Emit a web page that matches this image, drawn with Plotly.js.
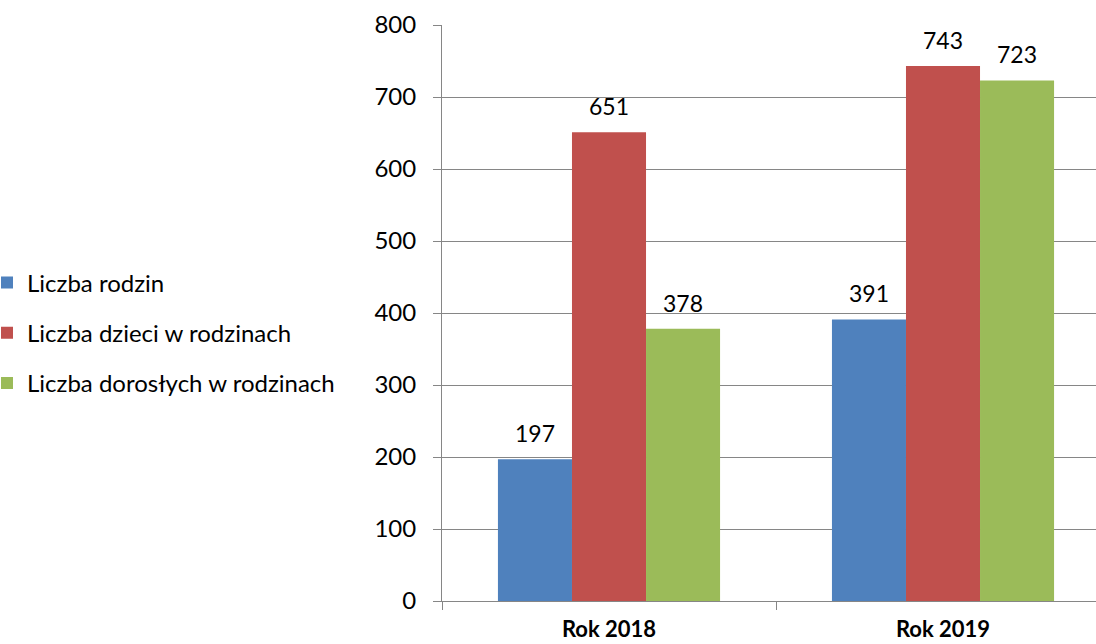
<!DOCTYPE html>
<html>
<head>
<meta charset="utf-8">
<script src="https://cdn.plot.ly/plotly-3.0.1.min.js"></script>
<style>html,body{margin:0;padding:0;background:#fff;}#chart{width:1096px;height:644px;}</style>
</head>
<body>
<div id="chart"></div>
<script>
const categories = ["Rok 2018", "Rok 2019"];
const seriesNames = ["Liczba rodzin", "Liczba dzieci w rodzinach", "Liczba dorosłych w rodzinach"];
const rodziny = [197, 391];
const dzieci = [651, 743];
const dorosli = [378, 723];
const yTicks = [0, 100, 200, 300, 400, 500, 600, 700, 800];

const colors = ["#4F81BD", "#C0504D", "#9BBB59"];
const seriesValues = [rodziny, dzieci, dorosli];
const FONT = "Lato, 'Open Sans', sans-serif";
const bargap = 0.335;
const barW = (1 - bargap) / seriesValues.length;
const plotL = 442, plotW = 654, plotT = 25, plotH = 576;

const traces = seriesValues.map((vals, i) => ({
  type: "bar",
  name: seriesNames[i],
  legendgroup: "g" + i,
  x: categories,
  y: vals,
  marker: {color: colors[i], line: {width: 0}},
  hoverinfo: "none"
}));

const annotations = [];
seriesValues.forEach((vals, i) => {
  vals.forEach((v, j) => {
    annotations.push({
      x: j + (i - (seriesValues.length - 1) / 2) * barW,
      y: v,
      xref: "x", yref: "y",
      text: String(v),
      showarrow: false,
      yanchor: "middle",
      yshift: 26,
      font: {family: FONT, size: 23, color: "#000"}
    });
  });
});

const layout = {
  width: 1096, height: 644,
  margin: {l: plotL, r: 0, t: plotT, b: 644 - plotT - plotH, pad: 0, autoexpand: false},
  paper_bgcolor: "#fff", plot_bgcolor: "#fff",
  barmode: "group", bargap: bargap, bargroupgap: 0,
  font: {family: FONT, size: 23, color: "#000"},
  xaxis: {
    type: "category",
    range: [-0.5, -0.5 + plotW / 334],
    tickson: "boundaries",
    ticks: "outside", ticklen: 8, tickcolor: "#868686", tickwidth: 1,
    showline: true, linecolor: "#868686", linewidth: 1,
    showgrid: false, zeroline: false,
    ticklabelstandoff: 9,
    tickfont: {family: FONT, size: 22, color: "#000", weight: "bold"}
  },
  yaxis: {
    range: [0, 800],
    tickvals: yTicks,
    ticks: "outside", ticklen: 8, tickcolor: "#868686", tickwidth: 1,
    showline: true, linecolor: "#868686", linewidth: 1,
    showgrid: true, gridcolor: "#868686", gridwidth: 1,
    zeroline: false,
    ticklabelstandoff: 12,
    tickfont: {family: FONT, size: 24, color: "#000"}
  },
  showlegend: true,
  legend: {
    xref: "paper", yref: "paper",
    x: (-13 - plotL) / plotW, xanchor: "left",
    y: (plotT + plotH - 333) / plotH, yanchor: "middle",
    orientation: "v",
    tracegroupgap: 16,
    font: {family: FONT, size: 24, color: "#000"},
    bgcolor: "rgba(0,0,0,0)"
  },
  annotations: annotations
};

Plotly.newPlot("chart", traces, layout, {displayModeBar: false, staticPlot: true});
</script>
</body>
</html>
